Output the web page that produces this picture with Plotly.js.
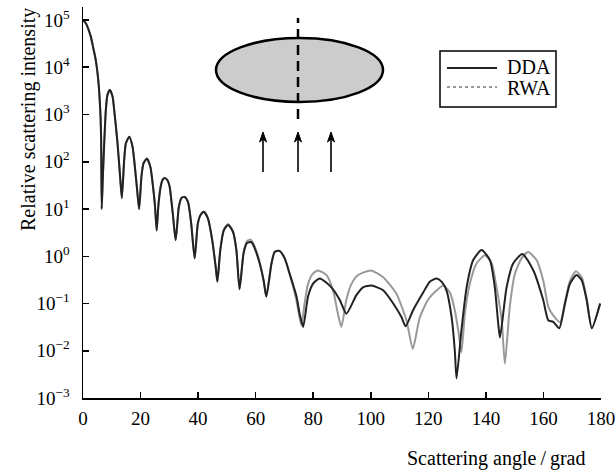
<!DOCTYPE html>
<html>
<head>
<meta charset="utf-8">
<script src="https://cdn.plot.ly/plotly-3.0.1.min.js"></script>
<style>html,body{margin:0;padding:0;background:#fff;}#chart{width:616px;height:470px;}</style>
</head>
<body>
<div id="chart"></div>
<script>
// Scattering angle (grad) and relative intensity
var ddaAngle = [0,1.0,1.8,2.7,3.6,4.45,5.3,6.0,6.3,6.5,6.9,7.37,7.93,8.5,9.33,10.26,10.85,12.0,12.9,13.5,
  14.3,14.9,16.1,17.2,17.8,18.7,19.5,20.3,21.0,22.2,23.4,24.2,25.0,25.6,26.2,27.0,27.7,28.5,29.4,30.1,31.2,32.2,
  33.3,34.2,35.3,36.5,37.6,38.8,39.9,40.8,42.0,43.4,44.9,46.1,46.7,47.7,48.9,50.4,52.1,53.3,54.4,
  55.8,57.0,58.5,59.7,61.4,62.8,63.7,65.5,66.6,68.3,70.1,71.8,74.2,75.3,76.5,
  78.2,79.9,82.3,86.3,89.2,91.5,95.0,97.3,100.2,104.3,107.8,110.7,112.1,
  114.7,118.2,120.5,122.9,124.6,126.3,128.1,129.2,129.8,131.5,133.3,135.6,138.5,141.4,143.1,144.3,144.9,
  147.2,149.5,152.7,156.5,159.9,161.7,163.4,165.5,167.5,169.2,171.5,173.3,175.0,176.8,179.7];
var ddaValue = [1.0e5,8.5e4,6.6e4,4.5e4,2.5e4,1.4e4,5400,1200,300,10,48,245,1230,2600,3300,2400,1230,245,48,17,
  107,245,340,210,107,30,10,48,91,117,78,35,12,3.5,12,30,42,45,40,30,8,2.2,
  11,17,18,14,4.9,0.9,4.9,7.4,8.7,6.3,2.2,0.6,0.29,1.35,3.5,4.6,3.3,1.35,0.2,
  1.15,1.9,2.0,1.45,0.7,0.3,0.14,0.7,1.23,1.3,0.9,0.43,0.14,0.06,0.032,
  0.14,0.26,0.34,0.22,0.12,0.061,0.15,0.22,0.24,0.19,0.1,0.051,0.033,
  0.072,0.17,0.29,0.34,0.29,0.19,0.051,0.01,0.0026,0.027,0.22,0.83,1.35,0.83,0.22,0.037,0.019,
  0.22,0.71,1.12,0.5,0.12,0.044,0.041,0.03,0.1,0.26,0.4,0.31,0.12,0.03,0.1];

var rwaAngle = [0,1.0,1.8,2.7,3.6,4.45,5.3,6.0,6.3,6.5,6.9,7.37,7.93,8.5,9.33,10.26,10.85,12.0,12.9,13.5,
  14.3,14.9,16.1,17.2,17.8,18.7,19.5,20.3,21.0,22.2,23.4,24.2,25.0,25.6,26.2,27.0,27.7,28.5,29.4,30.1,31.2,32.2,
  33.3,34.2,35.3,36.5,37.6,38.8,39.9,40.8,42.0,43.4,44.9,46.1,46.7,47.7,48.9,50.4,52.1,53.3,54.4,
  55.8,57.0,58.3,59.7,61.4,62.8,63.7,65.5,66.6,68.3,70.1,71.8,74.0,75.0,75.9,
  77.0,78.2,79.9,81.7,84.6,86.9,88.6,89.8,91.5,93.3,95.6,100.0,104.3,108.9,112.4,114.6,
  117.0,119.9,122.9,125.2,127.5,129.2,130.4,131.5,132.7,134.4,136.8,139.7,142.0,143.7,145.5,146.6,
  148.3,150.1,152.4,154.7,157.6,159.9,161.7,163.4,165.8,167.5,169.2,171.3,173.3,175.0,176.8,179.7];
var rwaValue = [1.0e5,8.5e4,6.6e4,4.5e4,2.5e4,1.4e4,5400,1200,300,10,48,245,1230,2600,3300,2400,1230,245,48,17,
  107,245,340,210,107,30,10,48,91,117,78,35,12,3.5,12,30,42,45,40,30,8,2.2,
  11,17,18,14,4.9,0.9,4.9,7.4,8.7,6.3,2.2,0.6,0.29,1.35,3.6,4.8,3.4,1.35,0.2,
  1.2,2.1,2.25,1.6,0.75,0.3,0.14,0.72,1.25,1.3,0.9,0.42,0.13,0.06,0.035,
  0.1,0.26,0.43,0.5,0.4,0.19,0.06,0.032,0.12,0.26,0.4,0.5,0.36,0.16,0.044,0.011,
  0.05,0.12,0.19,0.24,0.17,0.072,0.027,0.0093,0.062,0.26,0.71,1.05,0.71,0.22,0.044,0.0053,
  0.085,0.43,0.9,1.23,0.83,0.31,0.085,0.056,0.04,0.11,0.3,0.48,0.36,0.13,0.03,0.1];

var seriesNames = ['DDA', 'RWA'];
var xTicks = [0,20,40,60,80,100,120,140,160,180];
var yTickVals = [1e-3,1e-2,1e-1,1,10,100,1e3,1e4,1e5];
var yTickText = ['10<sup>\u22123</sup>','10<sup>\u22122</sup>','10<sup>\u22121</sup>','10<sup>0</sup>','10<sup>1</sup>',
                 '10<sup>2</sup>','10<sup>3</sup>','10<sup>4</sup>','10<sup>5</sup>'];

// pixel -> paper helpers for decorations
var L = 83, R = 601, T = 7, B = 398;
function px(x){ return (x - L) / (R - L); }
function py(y){ return (B - y) / (B - T); }

var serif = 'Liberation Serif, Times New Roman, serif';
var ddaColor = '#222222', rwaColor = '#999999';

var traces = [
  {x: rwaAngle, y: rwaValue, name: seriesNames[1], mode: 'lines', showlegend: false,
   line: {color: rwaColor, width: 2, shape: 'spline', smoothing: 0.6}},
  {x: ddaAngle, y: ddaValue, name: seriesNames[0], mode: 'lines', showlegend: false,
   line: {color: ddaColor, width: 2, shape: 'spline', smoothing: 0.6}}
];

var annotations = [
  {text: 'Relative scattering intensity', xref: 'paper', yref: 'paper', x: px(29), y: py(120),
   textangle: -90, showarrow: false, font: {family: serif, size: 20, color: '#000'}, xanchor: 'center', yanchor: 'middle'},
  {text: 'Scattering angle\u2009/\u2009grad', xref: 'paper', yref: 'paper', x: px(496), y: py(459),
   showarrow: false, font: {family: serif, size: 20, color: '#000'}, xanchor: 'center', yanchor: 'middle'},
  {text: seriesNames[0], xref: 'paper', yref: 'paper', x: px(505), y: py(67), showarrow: false,
   xanchor: 'left', yanchor: 'middle', font: {family: serif, size: 20, color: '#000'}},
  {text: seriesNames[1], xref: 'paper', yref: 'paper', x: px(505), y: py(88), showarrow: false,
   xanchor: 'left', yanchor: 'middle', font: {family: serif, size: 20, color: '#000'}}
];

var shapes = [
  // ellipse with dashed symmetry axis
  {type: 'circle', xref: 'paper', yref: 'paper', x0: px(216), x1: px(383), y0: py(102), y1: py(38),
   fillcolor: '#cccccc', line: {color: '#000', width: 2.5}},
  {type: 'line', xref: 'paper', yref: 'paper', x0: px(298), x1: px(298), y0: py(119), y1: py(18),
   line: {color: '#000', width: 2.5, dash: '10px,6px'}},
  // legend box and samples
  {type: 'rect', xref: 'paper', yref: 'paper', x0: px(440), x1: px(556), y0: py(107), y1: py(51),
   fillcolor: '#fff', line: {color: '#000', width: 1.5}},
  {type: 'line', xref: 'paper', yref: 'paper', x0: px(447), x1: px(497), y0: py(68), y1: py(68),
   line: {color: ddaColor, width: 2}},
  {type: 'line', xref: 'paper', yref: 'paper', x0: px(447), x1: px(497), y0: py(87), y1: py(87),
   line: {color: rwaColor, width: 1.8, dash: 'dot'}}
];
// incident-light arrows
[263, 298, 331].forEach(function(ax){
  shapes.push({type: 'line', xref: 'paper', yref: 'paper', x0: px(ax), x1: px(ax), y0: py(172), y1: py(139),
    line: {color: '#000', width: 1.6}});
  shapes.push({type: 'path', xref: 'paper', yref: 'paper',
    path: 'M' + px(ax) + ',' + py(132) + ' L' + px(ax - 3.5) + ',' + py(142) + ' L' + px(ax) + ',' + py(139) +
          ' L' + px(ax + 3.5) + ',' + py(142) + ' Z',
    fillcolor: '#000', line: {color: '#000', width: 1}});
});

var layout = {
  width: 616, height: 470,
  margin: {l: L, r: 616 - R, t: T, b: 470 - B, pad: 0},
  paper_bgcolor: '#fff', plot_bgcolor: '#fff',
  font: {family: serif, size: 19, color: '#000'},
  showlegend: false,
  xaxis: {range: [0, 180], tickvals: xTicks, ticks: 'inside', ticklen: 6, tickwidth: 1.5, tickcolor: '#000',
          showline: true, linecolor: '#000', linewidth: 1.5, showgrid: false, zeroline: false,
          tickfont: {family: serif, size: 19, color: '#000'}, ticklabelstandoff: 3},
  yaxis: {type: 'log', range: [-3, 5.275], tickvals: yTickVals, ticktext: yTickText,
          ticks: 'inside', ticklen: 6, tickwidth: 1.5, tickcolor: '#000',
          showline: true, linecolor: '#000', linewidth: 1.5, showgrid: false, zeroline: false,
          tickfont: {family: serif, size: 19, color: '#000'}, ticklabelstandoff: 8},
  shapes: shapes,
  annotations: annotations
};

Plotly.newPlot('chart', traces, layout, {displayModeBar: false, staticPlot: true});
</script>
</body>
</html>
